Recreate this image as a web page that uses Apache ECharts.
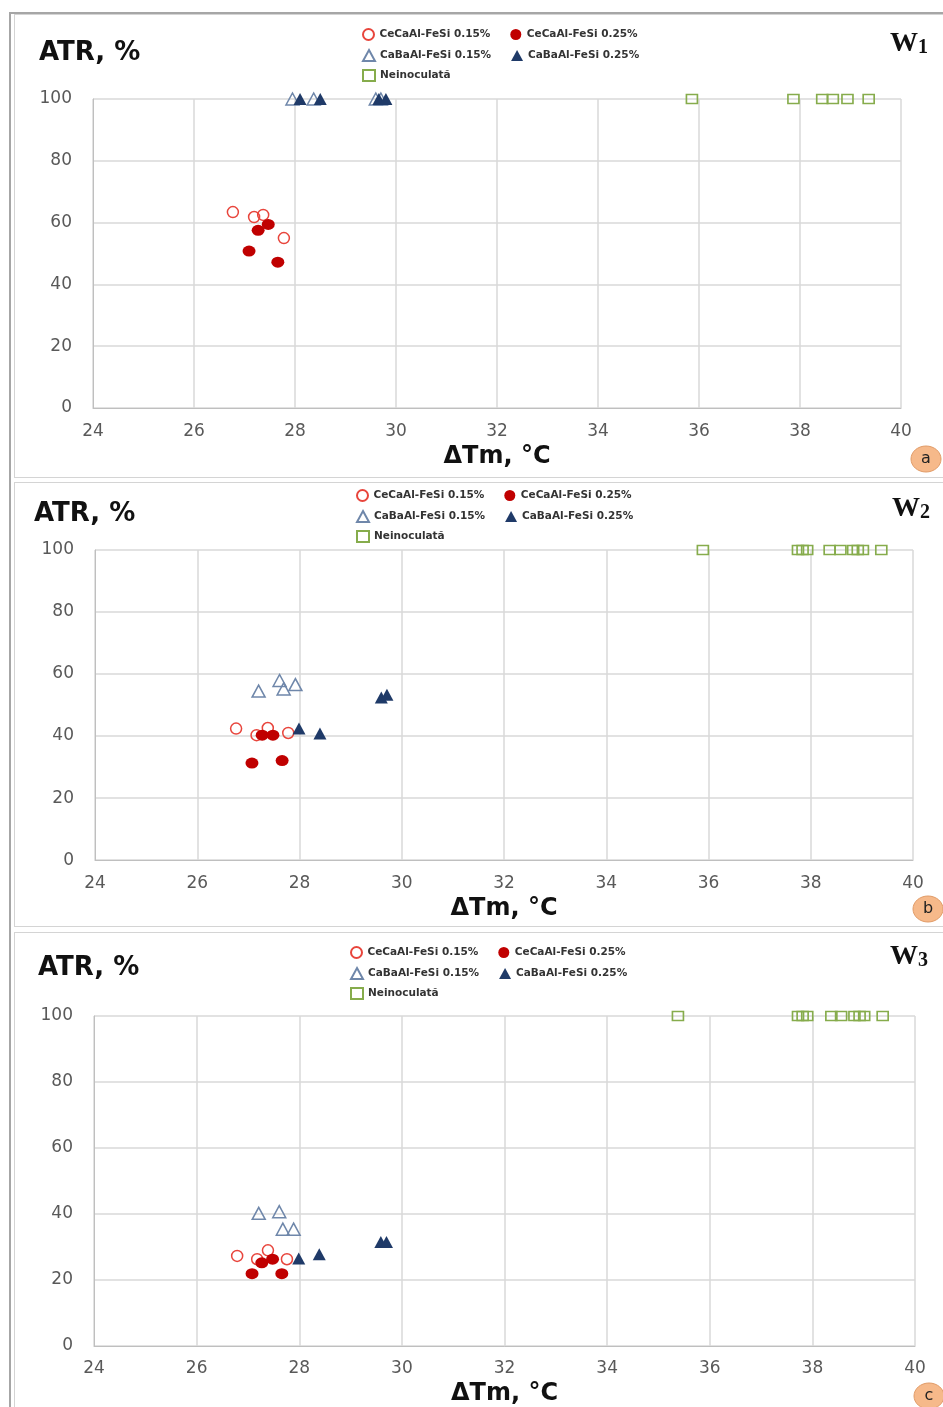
<!DOCTYPE html>
<html>
<head>
<meta charset="utf-8">
<script src="https://cdn.jsdelivr.net/npm/echarts@6/dist/echarts.min.js"></script>
<style>
html,body{margin:0;padding:0;background:#fff;width:943px;height:1407px;overflow:hidden;}
#frame{position:absolute;left:9px;top:12px;width:940px;height:1400px;border-top:2px solid #a6a6a6;border-left:2px solid #a6a6a6;}
.panel{position:absolute;left:14px;width:935px;border:1px solid #d4d4d4;background:#fff;}
</style>
</head>
<body>
<div id="frame"></div>
<div id="pa" class="panel" style="top:14px;height:462px;"></div>
<div id="pb" class="panel" style="top:482px;height:443px;"></div>
<div id="pc" class="panel" style="top:932px;height:480px;"></div>
<script>
// ---- data ----
const seriesNames = ['CeCaAl-FeSi 0.15%', 'CeCaAl-FeSi 0.25%', 'CaBaAl-FeSi 0.15%', 'CaBaAl-FeSi 0.25%', 'Neinoculată'];
const xMin = 24, xMax = 40, xStep = 2;
const yMin = 0, yMax = 100, yStep = 20;

// panel a (W1)
const a_ce015 = [[26.77,63.4],[27.19,61.8],[27.37,62.5],[27.78,55.0]];
const a_ce025 = [[27.47,59.4],[27.27,57.5],[27.09,50.8],[27.66,47.2]];
const a_cb015 = [[27.95,100],[28.37,100],[29.6,100],[29.7,100]];
const a_cb025 = [[28.1,100],[28.5,100],[29.66,100],[29.8,100]];
const a_nein  = [[35.86,100],[37.87,100],[38.44,100],[38.65,100],[38.94,100],[39.36,100]];

// panel b (W2)
const b_ce015 = [[26.76,42.4],[27.16,40.3],[27.38,42.6],[27.78,41.0]];
const b_ce025 = [[27.27,40.3],[27.48,40.3],[27.07,31.3],[27.66,32.1]];
const b_cb015 = [[27.2,54.5],[27.61,57.9],[27.69,55.2],[27.92,56.6]];
const b_cb025 = [[27.99,42.4],[28.4,40.8],[29.6,52.4],[29.71,53.3]];
const b_nein  = [[35.89,100],[37.75,100],[37.84,100],[37.93,100],[38.37,100],[38.58,100],[38.83,100],[38.92,100],[39.02,100],[39.38,100]];

// panel c (W3)
const c_ce015 = [[26.79,27.3],[27.18,26.3],[27.39,29.0],[27.76,26.3]];
const c_ce025 = [[27.27,25.2],[27.48,26.3],[27.08,21.9],[27.66,21.9]];
const c_cb015 = [[27.21,40.2],[27.61,40.7],[27.68,35.4],[27.89,35.4]];
const c_cb025 = [[27.99,26.5],[28.39,27.8],[29.59,31.5],[29.7,31.5]];
const c_nein  = [[35.38,100],[37.72,100],[37.81,100],[37.9,100],[38.37,100],[38.56,100],[38.82,100],[38.92,100],[39.01,100],[39.37,100]];

const panelLabels = ['a', 'b', 'c'];
const wSubs = ['1', '2', '3'];
const yTitle = 'ATR, %';
const xTitle = 'ΔTm, °C';

// ---- styles ----
const styles = [
  {symbol:'circle', symbolSize:11, itemStyle:{opacity:1, color:'rgba(255,255,255,0)', borderColor:'#E8453C', borderWidth:1.5}},
  {symbol:'circle', symbolSize:[13,11], itemStyle:{opacity:1, color:'#C00000', borderColor:'#C00000', borderWidth:0}},
  {symbol:'triangle', symbolSize:[13,12], itemStyle:{opacity:1, color:'rgba(255,255,255,0)', borderColor:'#6F87AA', borderWidth:1.5}},
  {symbol:'triangle', symbolSize:[13,12], itemStyle:{opacity:1, color:'#1F3A68', borderColor:'#1F3A68', borderWidth:0}},
  {symbol:'rect', symbolSize:[11,9], itemStyle:{opacity:1, color:'rgba(255,255,255,0)', borderColor:'#86AC4C', borderWidth:1.5}}
];

const layouts = [
  {id:'pa', grid:{left:78, top:84, width:808, height:309}, legTop:[13,34,54], legLeft:347,
   yTitle:[24,25], w:[875,15], badge:[911,444], nameGap:37, labelMargin:15},
  {id:'pb', grid:{left:80, top:67, width:818, height:316}, legTop:[6,27,47], legLeft:341,
   yTitle:[19,18], w:[877,12], badge:[913,426], nameGap:30, labelMargin:15},
  {id:'pc', grid:{left:79, top:83, width:821, height:330}, legTop:[13,34,54], legLeft:335,
   yTitle:[23,22], w:[875,10], badge:[914,463], nameGap:31, labelMargin:14}
];

const panelData = [
  [a_ce015, a_ce025, a_cb015, a_cb025, a_nein],
  [b_ce015, b_ce025, b_cb015, b_cb025, b_nein],
  [c_ce015, c_ce025, c_cb015, c_cb025, c_nein]
];

const legendText = {fontSize:10.5, fontWeight:'bold', color:'#333', fontFamily:'DejaVu Sans'};

function makeLegend(top, left, names) {
  return {top:top, left:left, padding:0, itemWidth:12, itemHeight:11, itemGap:20,
    textStyle:legendText, data:names, selectedMode:false, inactiveColor:'#ccc'};
}

layouts.forEach(function(L, i) {
  const chart = echarts.init(document.getElementById(L.id), null, {renderer:'canvas'});
  const series = panelData[i].map(function(d, k) {
    return Object.assign({type:'scatter', name:seriesNames[k], data:d, z: 2 + k,
      emphasis:{disabled:true}}, JSON.parse(JSON.stringify(styles[k])));
  });
  chart.setOption({
    animation:false,
    grid:L.grid,
    legend:[
      makeLegend(L.legTop[0], L.legLeft, [seriesNames[0], seriesNames[1]]),
      makeLegend(L.legTop[1], L.legLeft, [seriesNames[2], seriesNames[3]]),
      makeLegend(L.legTop[2], L.legLeft, [seriesNames[4]])
    ],
    xAxis:{type:'value', min:xMin, max:xMax, interval:xStep,
      name:xTitle, nameLocation:'middle', nameGap:L.nameGap,
      nameTextStyle:{fontSize:24, fontWeight:'bold', color:'#111', fontFamily:'DejaVu Sans'},
      axisLine:{show:true, lineStyle:{color:'#bfbfbf', width:1}},
      axisTick:{show:false},
      axisLabel:{fontSize:17, color:'#595959', margin:L.labelMargin, fontFamily:'DejaVu Sans'},
      splitLine:{show:true, lineStyle:{color:'#d9d9d9', width:1.5}}},
    yAxis:{type:'value', min:yMin, max:yMax, interval:yStep,
      axisLine:{show:true, lineStyle:{color:'#bfbfbf', width:1}},
      axisTick:{show:false},
      axisLabel:{fontSize:17, color:'#595959', margin:21, fontFamily:'DejaVu Sans'},
      splitLine:{show:true, lineStyle:{color:'#d9d9d9', width:1.5}}},
    graphic:[
      {type:'text', left:L.yTitle[0], top:L.yTitle[1],
        style:{text:yTitle, fontSize:26, fontWeight:'bold', fill:'#111', fontFamily:'DejaVu Sans'}},
      {type:'text', left:L.w[0], top:L.w[1],
        style:{text:'{w|W}{s|' + wSubs[i] + '}', rich:{
          w:{fontSize:28, fontWeight:'bold', fontFamily:'Liberation Serif', fill:'#111', verticalAlign:'bottom'},
          s:{fontSize:20, fontWeight:'bold', fontFamily:'Liberation Serif', fill:'#111', verticalAlign:'bottom'}}}},
      {type:'group', x:L.badge[0], y:L.badge[1], children:[
        {type:'ellipse', shape:{cx:0, cy:0, rx:15, ry:13},
          style:{fill:'#F6B98A', stroke:'#E09A66', lineWidth:1}},
        {type:'text', x:0, y:0, style:{text:panelLabels[i], fontSize:16, fill:'#222', align:'center', verticalAlign:'middle', fontFamily:'DejaVu Sans'}}
      ]}
    ],
    series:series
  });
});
</script>
</body>
</html>
